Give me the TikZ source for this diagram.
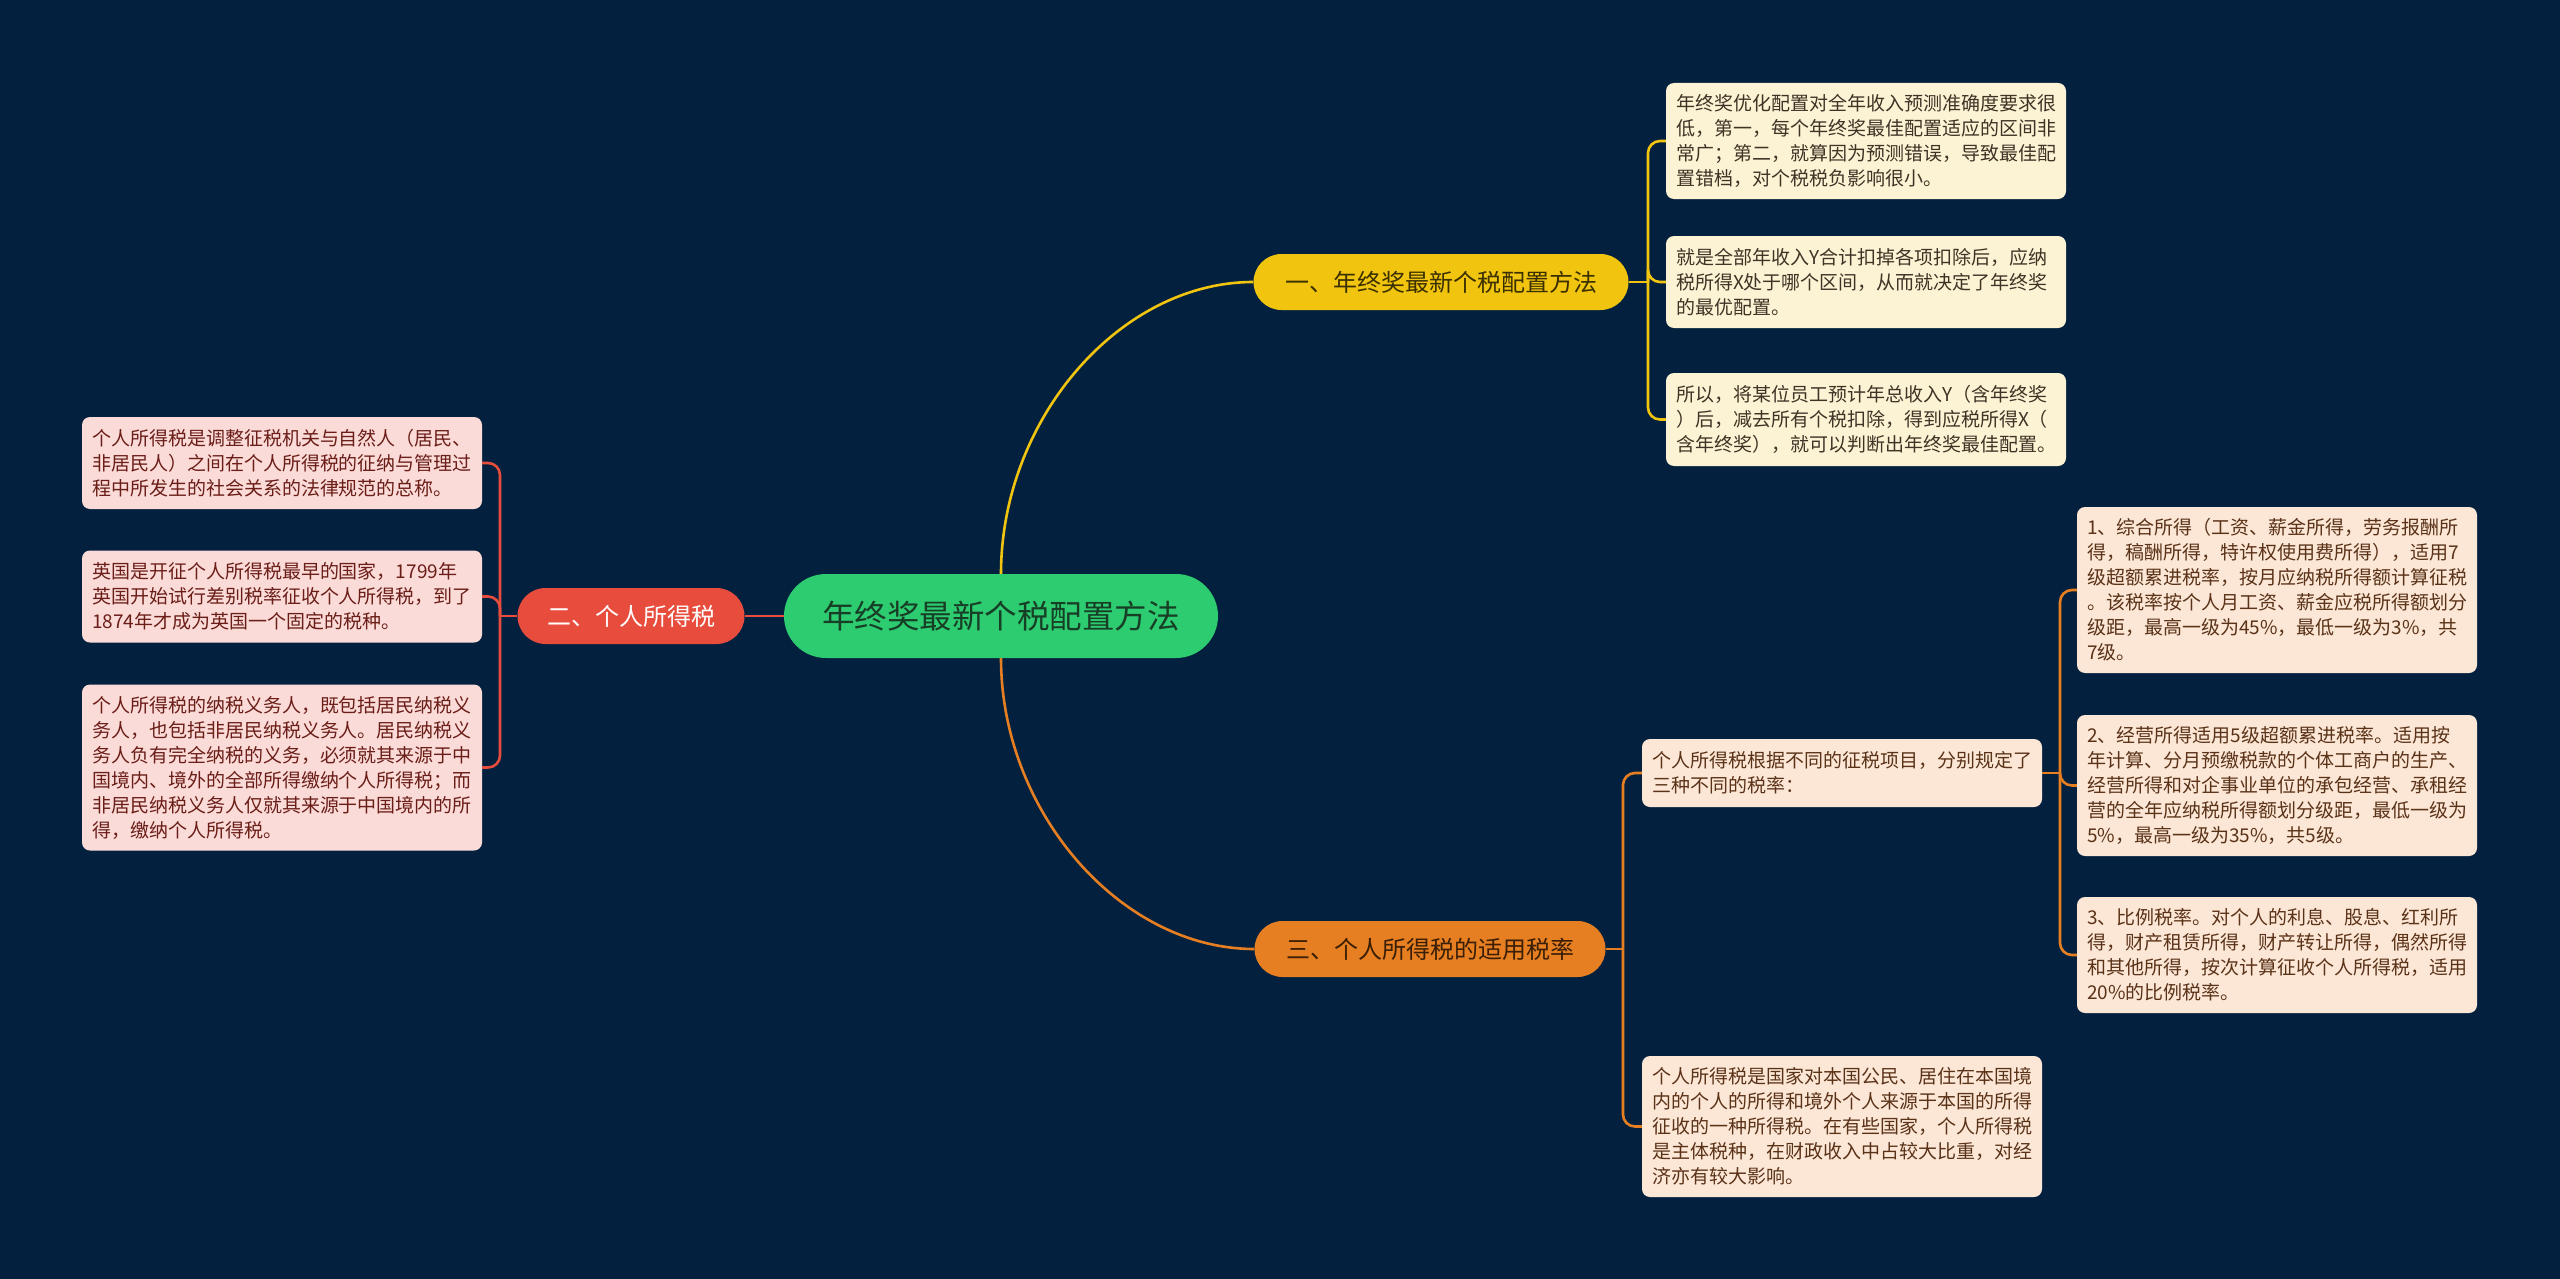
\documentclass[tikz,border=0pt]{standalone}
\usepackage{fontspec}
\newfontfamily\cjk{Noto Sans CJK SC}
\definecolor{bg}{HTML}{03213F}
\definecolor{gfill}{HTML}{2ECC71}
\definecolor{gtext}{HTML}{173F26}
\definecolor{yfill}{HTML}{F1C40F}
\definecolor{ytext}{HTML}{3A3000}
\definecolor{rfill}{HTML}{E74C3C}
\definecolor{ofill}{HTML}{E67E22}
\definecolor{otext}{HTML}{3A1E05}
\definecolor{yleafc}{HTML}{FCF3D4}
\definecolor{oleafc}{HTML}{FCE7D6}
\definecolor{rleafc}{HTML}{FADBD8}
\definecolor{yltext}{HTML}{3D3426}
\definecolor{oltext}{HTML}{5A3218}
\definecolor{rltext}{HTML}{6B1D17}
\begin{document}
\begin{tikzpicture}[x=1pt,y=-1pt,
  pill/.style={rounded corners=28pt, minimum height=56pt, inner sep=0pt,
    font=\cjk\fontsize{24}{24}\selectfont},
  leafbox/.style={rounded corners=8pt, text width=380pt, inner xsep=10pt, inner ysep=0pt,
    align=left, font=\cjk\fontsize{19}{25}\selectfont},
  yleaf/.style={leafbox, fill=yleafc, text=yltext},
  oleaf/.style={leafbox, fill=oleafc, text=oltext},
  rleaf/.style={leafbox, fill=rleafc, text=rltext},
  ylw/.style={draw=yfill, line width=2.6pt},
  rdl/.style={draw=rfill, line width=2.6pt},
  orl/.style={draw=ofill, line width=2.6pt},
  brk/.style={rounded corners=12pt}
]
\useasboundingbox (0,0) rectangle (2560,1279);
\fill[bg] (0,0) rectangle (2560,1279);

% center
\node[fill=gfill, text=gtext, rounded corners=42pt, minimum width=434pt, minimum height=84pt,
  inner sep=0pt, font=\cjk\fontsize{32.5}{32.5}\selectfont] (c) at (1001,616) {年终奖最新个税配置方法};

% branches
\node[pill, fill=yfill, text=ytext, minimum width=375pt] (b1) at (1441,282) {一、年终奖最新个税配置方法};
\node[pill, fill=rfill, text=white, minimum width=227pt] (b2) at (631,616) {二、个人所得税};
\node[pill, fill=ofill, text=otext, minimum width=351pt] (b3) at (1430,949) {三、个人所得税的适用税率};

% yellow leaves
\node[yleaf, minimum height=116pt] (l1a) at (1866,141) {年终奖优化配置对全年收入预测准确度要求很\\低，第一，每个年终奖最佳配置适应的区间非\\常广；第二，就算因为预测错误，导致最佳配\\置错档，对个税税负影响很小。};
\node[yleaf, minimum height=92pt] (l1b) at (1866,282) {就是全部年收入Y合计扣掉各项扣除后，应纳\\税所得X处于哪个区间，从而就决定了年终奖\\的最优配置。};
\node[yleaf, minimum height=93pt] (l1c) at (1866,419.5) {所以，将某位员工预计年总收入Y（含年终奖\\）后，减去所有个税扣除，得到应税所得X（\\含年终奖），就可以判断出年终奖最佳配置。};

% red leaves
\node[rleaf, minimum height=92pt] (l2a) at (282,463) {个人所得税是调整征税机关与自然人（居民、\\非居民人）之间在个人所得税的征纳与管理过\\程中所发生的社会关系的法律规范的总称。};
\node[rleaf, minimum height=92pt] (l2b) at (282,596.5) {英国是开征个人所得税最早的国家，1799年\\英国开始试行差别税率征收个人所得税，到了\\1874年才成为英国一个固定的税种。};
\node[rleaf, minimum height=166pt] (l2c) at (282,767.5) {个人所得税的纳税义务人，既包括居民纳税义\\务人，也包括非居民纳税义务人。居民纳税义\\务人负有完全纳税的义务，必须就其来源于中\\国境内、境外的全部所得缴纳个人所得税；而\\非居民纳税义务人仅就其来源于中国境内的所\\得，缴纳个人所得税。};

% orange leaves
\node[oleaf, minimum height=68pt] (l3a) at (1842,773) {个人所得税根据不同的征税项目，分别规定了\\三种不同的税率：};
\node[oleaf, minimum height=141pt] (l3b) at (1842,1126.5) {个人所得税是国家对本国公民、居住在本国境\\内的个人的所得和境外个人来源于本国的所得\\征收的一种所得税。在有些国家，个人所得税\\是主体税种，在财政收入中占较大比重，对经\\济亦有较大影响。};
\node[oleaf, minimum height=166pt] (l3a1) at (2277,590) {1、综合所得（工资、薪金所得，劳务报酬所\\得，稿酬所得，特许权使用费所得），适用7\\级超额累进税率，按月应纳税所得额计算征税\\。该税率按个人月工资、薪金应税所得额划分\\级距，最高一级为45\%，最低一级为3\%，共\\7级。};
\node[oleaf, minimum height=141pt] (l3a2) at (2277,785.5) {2、经营所得适用5级超额累进税率。适用按\\年计算、分月预缴税款的个体工商户的生产、\\经营所得和对企事业单位的承包经营、承租经\\营的全年应纳税所得额划分级距，最低一级为\\5\%，最高一级为35\%，共5级。};
\node[oleaf, minimum height=116pt] (l3a3) at (2277,955) {3、比例税率。对个人的利息、股息、红利所\\得，财产租赁所得，财产转让所得，偶然所得\\和其他所得，按次计算征收个人所得税，适用\\20\%的比例税率。};

% spine coordinates
\coordinate (ys) at (1648,0);
\coordinate (rs) at (500,0);
\coordinate (os) at (1623,0);
\coordinate (os2) at (2060,0);

% main connectors
\draw[ylw] (c.north) .. controls +(0,-154) and +(-134,0) .. (b1.west);
\draw[orl] (c.south) .. controls +(0,153) and +(-134,0) .. (b3.west);
\draw[rdl] (c.west) -- (b2.east);

% yellow bracket
\draw[ylw] (b1.east) -- (b1.east -| ys);
\draw[ylw, brk] (b1.east -| ys) |- (l1a.west);
\draw[ylw, brk] (b1.east -| ys) |- (l1b.west);
\draw[ylw, brk] (b1.east -| ys) |- (l1c.west);

% red bracket
\draw[rdl] (b2.west) -- (b2.west -| rs);
\draw[rdl, brk] (b2.west -| rs) |- (l2a.east);
\draw[rdl, brk] (b2.west -| rs) |- (l2b.east);
\draw[rdl, brk] (b2.west -| rs) |- (l2c.east);

% orange bracket (branch 3)
\draw[orl] (b3.east) -- (b3.east -| os);
\draw[orl, brk] (b3.east -| os) |- (l3a.west);
\draw[orl, brk] (b3.east -| os) |- (l3b.west);

% orange bracket (l3a)
\draw[orl] (l3a.east) -- (l3a.east -| os2);
\draw[orl, brk] (l3a.east -| os2) |- (l3a1.west);
\draw[orl, brk] (l3a.east -| os2) |- (l3a2.west);
\draw[orl, brk] (l3a.east -| os2) |- (l3a3.west);
\end{tikzpicture}
\end{document}
